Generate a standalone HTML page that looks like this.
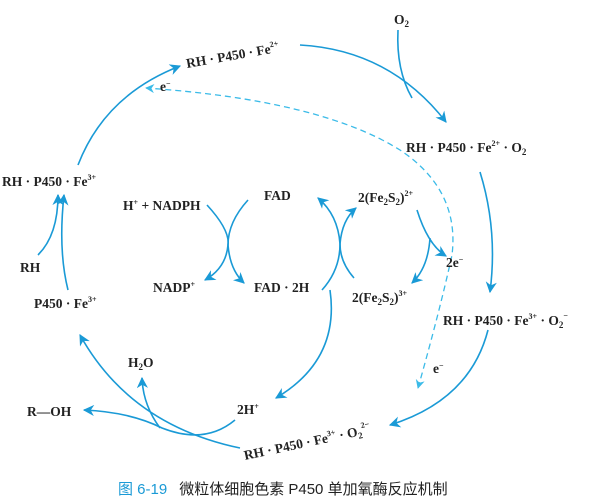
<!DOCTYPE html>
<html><head><meta charset="utf-8"><style>
body{margin:0;background:#fff;}
svg{display:block}
text{font-family:"Liberation Serif",serif;font-weight:bold;font-size:13.5px;fill:#222}
.c{font-family:"Liberation Sans","Noto Sans CJK SC",sans-serif;font-weight:normal;font-size:15px}
</style></head><body>
<svg width="608" height="501" viewBox="0 0 608 501" xmlns="http://www.w3.org/2000/svg">
<defs>
<marker id="a" viewBox="0 0 10 10" refX="9" refY="5" markerWidth="7" markerHeight="7" orient="auto-start-reverse"><path d="M0,0 L10,5 L0,10 L3,5z" fill="#1a9ad6"/></marker>
<marker id="d" viewBox="0 0 10 10" refX="9" refY="5" markerWidth="7" markerHeight="7" orient="auto-start-reverse"><path d="M0,0 L10,5 L0,10 L3,5z" fill="#3bbbe8"/></marker>
</defs>
<g fill="none" stroke="#1a9ad6" stroke-width="1.6">
<path d="M78,165 Q105,95 180,66" marker-end="url(#a)"/>
<path d="M300,45 Q390,50 446,122" marker-end="url(#a)"/>
<path d="M398,30 Q396,70 412,98"/>
<path d="M480,172 Q498,230 490,292" marker-end="url(#a)"/>
<path d="M488,330 Q470,400 390,425" marker-end="url(#a)"/>
<path d="M38,255 Q58,235 58,195" marker-end="url(#a)"/>
<path d="M68,290 Q58,250 64,195" marker-end="url(#a)"/>
<path d="M240,448 Q130,425 80,335" marker-end="url(#a)"/>
<path d="M235,420 Q205,445 162,428 Q130,412 84,410" marker-end="url(#a)"/>
<path d="M160,428 Q143,405 142,378" marker-end="url(#a)"/>
<path d="M330,290 Q340,360 276,398" marker-end="url(#a)"/>
<path d="M207,205 Q230,230 228,245 Q230,270 244,283" marker-end="url(#a)"/>
<path d="M248,200 Q228,222 228,245 Q226,268 205,280" marker-end="url(#a)"/>
<path d="M354,278 Q340,262 340,244 Q338,215 318,198" marker-end="url(#a)"/>
<path d="M322,290 Q340,270 340,244 Q342,220 356,208" marker-end="url(#a)"/>
<path d="M417,210 Q428,245 446,256" marker-end="url(#a)"/>
<path d="M430,238 Q428,268 412,283" marker-end="url(#a)"/>
</g>
<path d="M418,388 Q440,310 452,255 Q460,190 400,150 Q320,100 146,88" fill="none" stroke="#3bbbe8" stroke-width="1.3" stroke-dasharray="6,4" marker-start="url(#d)" marker-end="url(#d)"/>
<text x="394" y="24">O<tspan font-size="9" dy="3">2</tspan></text>
<text transform="translate(187,68) rotate(-10)">RH · P450 · Fe<tspan font-size="8" dy="-6">2+</tspan></text>
<text x="160" y="91">e<tspan font-size="8" dy="-5">−</tspan></text>
<text x="406" y="152">RH · P450 · Fe<tspan font-size="8" dy="-6">2+</tspan><tspan dy="6"> · O</tspan><tspan font-size="9" dy="3">2</tspan></text>
<text x="2" y="186">RH · P450 · Fe<tspan font-size="8" dy="-6">3+</tspan></text>
<text x="123" y="210">H<tspan font-size="8" dy="-5">+</tspan><tspan dy="5"> + NADPH</tspan></text>
<text x="264" y="200">FAD</text>
<text x="358" y="202">2(Fe<tspan font-size="9" dy="3">2</tspan><tspan dy="-3">S</tspan><tspan font-size="9" dy="3">2</tspan><tspan dy="-3">)</tspan><tspan font-size="8" dy="-6">2+</tspan></text>
<text x="446" y="267">2e<tspan font-size="8" dy="-5">−</tspan></text>
<text x="20" y="272">RH</text>
<text x="153" y="292">NADP<tspan font-size="8" dy="-5">+</tspan></text>
<text x="254" y="292">FAD · 2H</text>
<text x="352" y="302">2(Fe<tspan font-size="9" dy="3">2</tspan><tspan dy="-3">S</tspan><tspan font-size="9" dy="3">2</tspan><tspan dy="-3">)</tspan><tspan font-size="8" dy="-6">3+</tspan></text>
<text x="34" y="308">P450 · Fe<tspan font-size="8" dy="-6">3+</tspan></text>
<text x="443" y="325">RH · P450 · Fe<tspan font-size="8" dy="-6">3+</tspan><tspan dy="6"> · O</tspan><tspan font-size="9" dy="3">2</tspan><tspan font-size="8" dy="-10">−</tspan></text>
<text x="128" y="367">H<tspan font-size="9" dy="3">2</tspan><tspan dy="-3">O</tspan></text>
<text x="433" y="373">e<tspan font-size="8" dy="-5">−</tspan></text>
<text x="27" y="416">R—OH</text>
<text x="237" y="414">2H<tspan font-size="8" dy="-5">+</tspan></text>
<text transform="translate(245,460) rotate(-12)">RH · P450 · Fe<tspan font-size="8" dy="-6">3+</tspan><tspan dy="6"> · O</tspan><tspan font-size="9" dy="3">2</tspan><tspan font-size="8" dy="-10">2−</tspan></text>
<text class="c" x="118" y="494"><tspan fill="#1a9ad6">图 6-19</tspan><tspan dx="12">微粒体细胞色素 P450 单加氧酶反应机制</tspan></text>
</svg>
</body></html>
